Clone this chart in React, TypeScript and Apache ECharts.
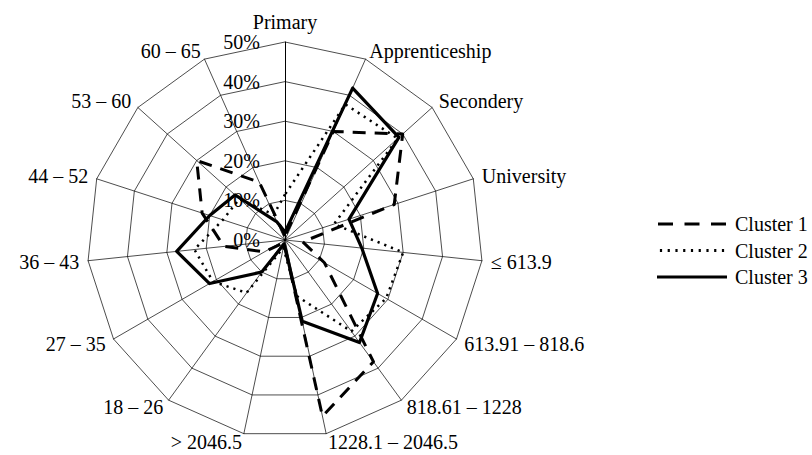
import React, { useEffect, useRef } from 'react';
import * as echarts from 'echarts';

// Axes listed clockwise from the top, as in the reference
const indicatorNames = [
  'Primary',
  'Apprenticeship',
  'Secondery',
  'University',
  '≤ 613.9',
  '613.91 – 818.6',
  '818.61 – 1228',
  '1228.1 – 2046.5',
  '> 2046.5',
  '18 – 26',
  '27 – 35',
  '36 – 43',
  '44 – 52',
  '53 – 60',
  '60 – 65',
];

// Values in percent, same clockwise order as indicatorNames
const cluster1 = [1, 30, 40, 29, 4.5, 11.5, 38, 45.5, 1, 1, 6, 15.5, 22, 30, 16];
const cluster2 = [11.5, 37.5, 38.3, 13, 30, 29.5, 28.5, 14.5, 2, 16.5, 21, 23, 16.5, 15.5, 7];
const cluster3 = [2, 42, 38.7, 17, 19.5, 27, 32, 21, 1, 10, 22, 27.5, 20, 17, 5];

const seriesNames = ['Cluster 1', 'Cluster 2', 'Cluster 3'];

const axisMin = 0;
const axisMax = 50;
const axisSplits = 5;

const FONT = '"Liberation Serif", "Times New Roman", Times, serif';
const FONT_SIZE = 20;

export default function App() {
  const ref = useRef<HTMLDivElement>(null);

  useEffect(() => {
    if (!ref.current) return;
    const chart = echarts.init(ref.current, null, { renderer: 'svg' });

    // ECharts lays radar indicators out counter-clockwise; reverse all but the first
    const n = indicatorNames.length;
    const order = [0];
    for (let i = n - 1; i >= 1; i--) order.push(i);
    const reorder = (arr: number[]) => order.map((i) => arr[i]);

    const indicator = order.map((i, k) => {
      const ind: any = { name: indicatorNames[i], min: axisMin, max: axisMax };
      if (k === 0) {
        ind.axisLabel = {
          show: true,
          formatter: '{value}%',
          color: '#000',
          fontFamily: FONT,
          fontSize: FONT_SIZE,
          margin: 25,
        };
        ind.axisLine = { lineStyle: { color: '#000', width: 1 } };
      }
      return ind;
    });

    const dashIcon = 'path://M0,0h15v3h-15z M26.5,0h15v3h-15z M53,0h15v3h-15z';
    let dots = '';
    for (let i = 0; i < 9; i++) {
      const x = i * 7.75;
      dots += `M${x},0h2.2v3h-2.2z `;
    }
    const dotIcon = 'path://' + dots.trim();

    const option: any = {
      animation: false,
      backgroundColor: '#fff',
      legend: {
        orient: 'vertical',
        left: 657,
        top: 214,
        padding: 0,
        itemWidth: 70,
        itemHeight: 3,
        itemGap: 6.5,
        textStyle: {
          color: '#000',
          fontFamily: FONT,
          fontSize: FONT_SIZE,
          lineHeight: 20,
          padding: [0, 0, 0, 3],
        },
        data: [
          { name: seriesNames[0], icon: dashIcon, itemStyle: { color: '#000' } },
          { name: seriesNames[1], icon: dotIcon, itemStyle: { color: '#000' } },
          { name: seriesNames[2], icon: 'rect', itemStyle: { color: '#000' } },
        ],
        selectedMode: false,
      },
      radar: {
        center: [285, 240],
        radius: 198,
        startAngle: 90,
        shape: 'polygon',
        splitNumber: axisSplits,
        nameGap: 9,
        axisName: { color: '#000', fontFamily: FONT, fontSize: FONT_SIZE },
        axisLine: { show: true, lineStyle: { color: '#000', width: 0.7 } },
        splitLine: { show: true, lineStyle: { color: '#000', width: 0.7 } },
        splitArea: { show: false },
        axisTick: { show: false },
        axisLabel: { show: false },
        indicator,
      },
      series: [
        {
          type: 'radar',
          symbol: 'none',
          data: [
            {
              name: seriesNames[0],
              value: reorder(cluster1),
              itemStyle: { color: '#000' },
              lineStyle: { color: '#000', width: 3, type: [13, 9] },
            },
            {
              name: seriesNames[1],
              value: reorder(cluster2),
              itemStyle: { color: '#000' },
              lineStyle: { color: '#000', width: 2.5, type: [2.2, 5] },
            },
            {
              name: seriesNames[2],
              value: reorder(cluster3),
              itemStyle: { color: '#000' },
              lineStyle: { color: '#000', width: 3.2, type: 'solid' },
            },
          ],
        },
      ],
    };

    chart.setOption(option);
    return () => chart.dispose();
  }, []);

  return (
    <div
      ref={ref}
      style={{ position: 'fixed', left: 0, top: 0, width: 812, height: 455, background: '#fff' }}
    />
  );
}
